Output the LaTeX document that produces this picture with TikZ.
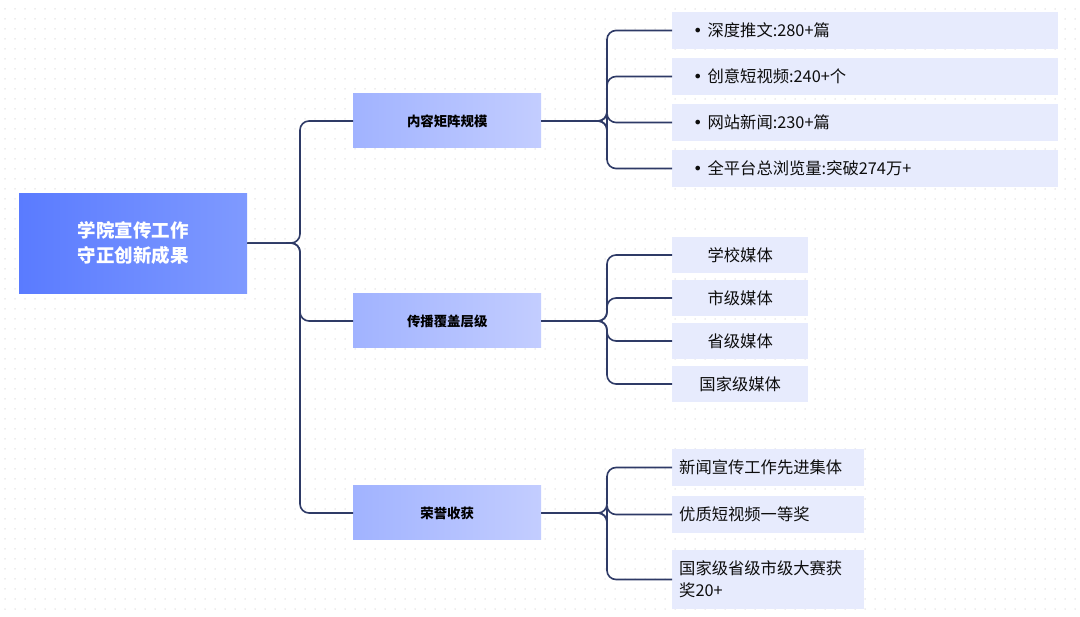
\documentclass[tikz,border=0pt]{standalone}
\usepackage{fontspec}
\setmainfont{Noto Sans CJK SC}
\newfontfamily\bulletfont{DejaVu Sans}
\usetikzlibrary{positioning}
\definecolor{linec}{HTML}{2E3A66}
\definecolor{rootL}{HTML}{5A7BFF}
\definecolor{rootR}{HTML}{7F9AFF}
\definecolor{brL}{HTML}{A1B3FF}
\definecolor{brR}{HTML}{C3CDFF}
\definecolor{leafc}{HTML}{E7EBFD}
\definecolor{dotc}{HTML}{DCDCDC}
\newcommand{\bul}{{\bulletfont\fontsize{16}{16}\selectfont •}\hspace{5pt}}
\begin{document}
\begin{tikzpicture}[x=1pt,y=-1pt,
  rootbox/.style={left color=rootL,right color=rootR,draw=none,minimum width=228pt,minimum height=100pt,
    text=white,font=\fontsize{18.5}{25}\selectfont\bfseries,align=center,anchor=north west,inner sep=0pt},
  branchbox/.style={left color=brL,right color=brR,draw=none,minimum width=188pt,minimum height=54pt,
    text=black,font=\fontsize{13.4}{16}\selectfont\bfseries,anchor=west,inner sep=0pt},
  leafA/.style={fill=leafc,draw=none,anchor=west,minimum height=37pt,inner xsep=21pt,inner ysep=0pt,
    text width=344pt,align=left,font=\fontsize{16.3}{22}\selectfont,text=black!95},
  leafB/.style={fill=leafc,draw=none,anchor=west,minimum height=36pt,minimum width=136pt,inner sep=0pt,
    align=center,font=\fontsize{16.3}{22}\selectfont,text=black!95},
  leafC/.style={fill=leafc,draw=none,anchor=west,minimum height=37pt,inner xsep=7pt,inner ysep=0pt,
    text width=178pt,align=left,font=\fontsize{16.3}{22}\selectfont,text=black!95},
  conn/.style={draw=linec,line width=1.6pt,rounded corners=9pt}
]
\useasboundingbox (0,0) rectangle (1080,617);
\fill[white] (0,0) rectangle (1080,617);
\foreach \i in {0,...,107}{
  \foreach \j in {0,...,60}{
    \fill[dotc] (5+10*\i,9+10*\j) circle (0.75pt);
  }
}
% root
\node[rootbox] (root) at (19,193) {学院宣传工作\\守正创新成果};
% branches
\node[branchbox] (b1) at (353,121) {内容矩阵规模};
\node[branchbox] (b2) at (353,321) {传播覆盖层级};
\node[branchbox] (b3) at (353,513) {荣誉收获};
% leaves group 1
\node[leafA] (a1) at (672,30.5) {\bul 深度推文:280+篇};
\node[leafA] (a2) at (672,76.5) {\bul 创意短视频:240+个};
\node[leafA] (a3) at (672,122.5) {\bul 网站新闻:230+篇};
\node[leafA] (a4) at (672,168.5) {\bul 全平台总浏览量:突破274万+};
% leaves group 2
\node[leafB] (m1) at (672,255) {学校媒体};
\node[leafB] (m2) at (672,298) {市级媒体};
\node[leafB] (m3) at (672,341) {省级媒体};
\node[leafB] (m4) at (672,384) {国家级媒体};
% leaves group 3
\node[leafC] (h1) at (672,467.5) {新闻宣传工作先进集体};
\node[leafC] (h2) at (672,514.5) {优质短视频一等奖};
\node[leafC,minimum height=59pt] (h3) at (672,579.5) {国家级省级市级大赛获\\奖20+};
% connectors root -> branches
\coordinate (j0) at (300,243);
\foreach \b in {b1,b2,b3}{
  \draw[conn] (root.east) -- (j0) |- (\b.west);
}
% branch -> leaves
\coordinate (j1) at (607,121);
\foreach \l in {a1,a2,a3,a4}{
  \draw[conn] (b1.east) -- (j1) |- (\l.west);
}
\coordinate (j2) at (607,321);
\foreach \l in {m1,m2,m3,m4}{
  \draw[conn] (b2.east) -- (j2) |- (\l.west);
}
\coordinate (j3) at (607,513);
\foreach \l in {h1,h2,h3}{
  \draw[conn] (b3.east) -- (j3) |- (\l.west);
}
\end{tikzpicture}
\end{document}
